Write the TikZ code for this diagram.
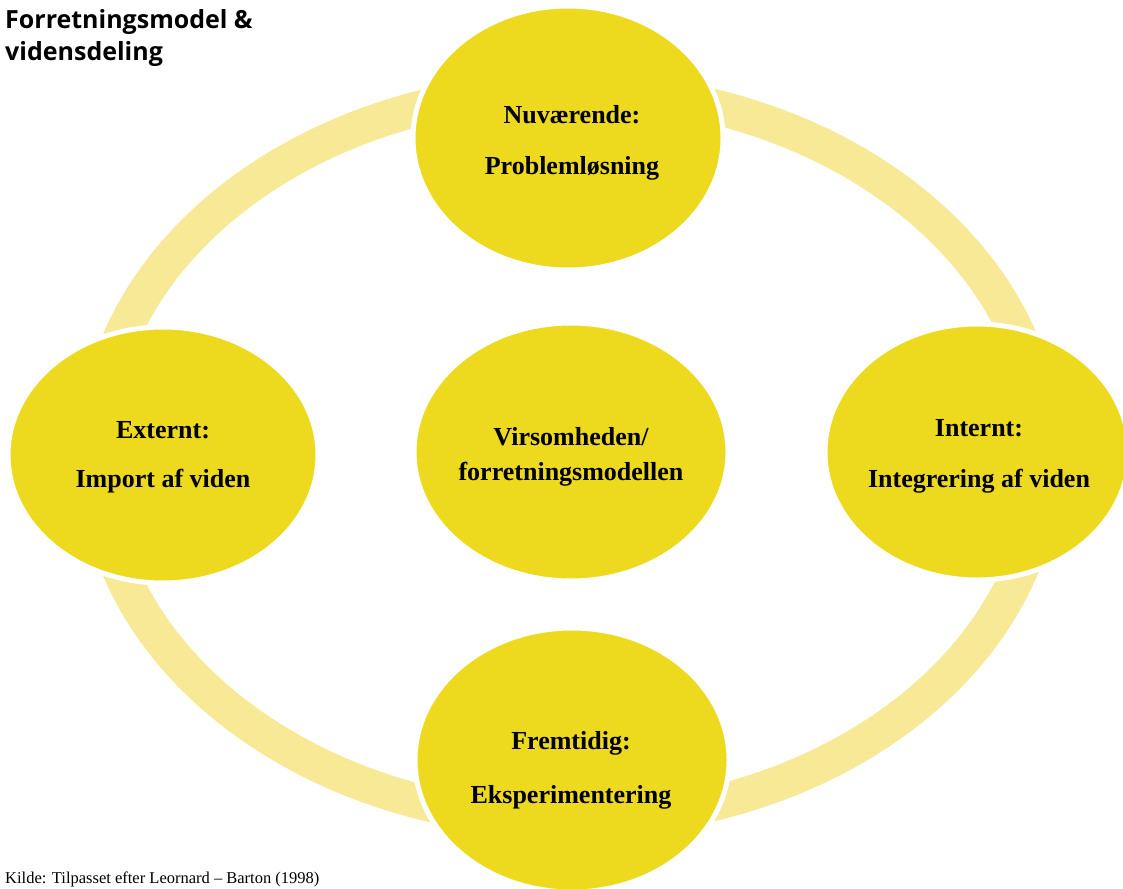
\documentclass[tikz,border=0pt]{standalone}
\usepackage{fontspec}
\setmainfont{Liberation Serif}
\newfontfamily\titlefont{Open Sans}
\definecolor{dyellow}{HTML}{EDDA1E}
\definecolor{lyellow}{HTML}{F7E996}
\begin{document}
\begin{tikzpicture}[x=1pt,y=-1pt,
  bubble/.style={fill=dyellow, draw=white, line width=5pt},
  lbl/.style={font=\fontsize{26}{30}\selectfont\bfseries, align=center, inner sep=0pt},
  ttl/.style={anchor=base west, inner sep=0pt, font=\titlefont\fontsize{25}{30}\selectfont\bfseries}]
\useasboundingbox (0,0) rectangle (1123,888);
\fill[lyellow, even odd rule] (570,455) ellipse [x radius=492, y radius=383]
  (570,455) ellipse [x radius=456, y radius=348];
\path[bubble] (568,138) ellipse [x radius=155, y radius=132];
\path[bubble] (163,455) ellipse [x radius=155, y radius=128];
\path[bubble] (977,452) ellipse [x radius=152, y radius=128];
\path[bubble] (571,452) ellipse [x radius=157, y radius=129];
\path[bubble] (572,760) ellipse [x radius=157, y radius=132];
\node[lbl] (t1) at (572,115) {Nuværende:};
\node[lbl] (t2) at (572,168) {Problemløsning};
\node[lbl] (l1) at (163,430) {Externt:};
\node[lbl] (l2) at (163,481) {Import af viden};
\node[lbl] (c1) at (571,437) {Virsomheden/};
\node[lbl] (c2) at (571,474) {forretningsmodellen};
\node[lbl] (r1) at (979,428) {Internt:};
\node[lbl] (r2) at (979,481) {Integrering af viden};
\node[lbl] (b1) at (571,743) {Fremtidig:};
\node[lbl] (b2) at (571,797) {Eksperimentering};
\node[ttl] (title1) at (5,29) {Forretningsmodel \&};
\node[ttl] (title2) at (5,61) {vidensdeling};
\node[anchor=base west, inner sep=0pt, font=\fontsize{16.5}{18}\selectfont] (src) at (5,883) {Kilde: Tilpasset efter Leornard – Barton (1998)};
\end{tikzpicture}
\end{document}
